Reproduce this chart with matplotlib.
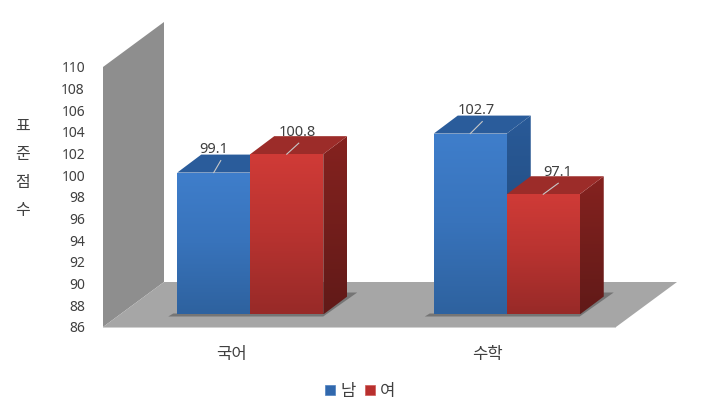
import numpy as np
import matplotlib
matplotlib.use("Agg")
import matplotlib.pyplot as plt
from matplotlib.patches import Polygon, Patch
from matplotlib.colors import LinearSegmentedColormap
from matplotlib.transforms import IdentityTransform

plt.rcParams['font.family'] = ['Noto Sans', 'Noto Sans CJK KR', 'DejaVu Sans']

categories = ['국어', '수학']
series_names = ['남', '여']
male = [99.1, 102.7]
female = [100.8, 97.1]
y_ticks = list(range(86, 112, 2))
y_title = ['표', '준', '점', '수']

W, H = 714, 412
TXT = '#404040'
fig = plt.figure(figsize=(W/100, H/100), dpi=100)
L, R, B, T = 103, 616, 327, 67
ax = fig.add_axes([L/W, 1-B/H, (R-L)/W, (B-T)/H])
ax.set_xlim(-0.5, 1.5)
ax.set_ylim(86, 110)
ax.patch.set_visible(False)
for s in ax.spines.values():
    s.set_visible(False)
ax.set_xticks([0, 1], categories)
ax.set_yticks(y_ticks)
ax.tick_params(axis='y', length=0, pad=13, labelsize=10, labelcolor=TXT)
ax.tick_params(axis='x', length=0, pad=14.5, labelsize=12, labelcolor=TXT)

to_px = ax.transData
from_px = ax.transData.inverted()
def d2p(x, v):
    return to_px.transform((x, v))
def poly(pts, **kw):
    p = Polygon(pts, closed=True, clip_on=False, **kw)
    p.set_transform(IdentityTransform())
    ax.add_patch(p)
    return p
def grad(pts, stops, z):
    pts = np.array(pts)
    cm = LinearSegmentedColormap.from_list('g', stops[::-1])
    x0, x1, y0, y1 = pts[:,0].min(), pts[:,0].max(), pts[:,1].min(), pts[:,1].max()
    (dx0, dy0), (dx1, dy1) = from_px.transform([(x0, y0), (x1, y1)])
    im = ax.imshow(np.linspace(1, 0, 64)[:, None], cmap=cm, vmin=0, vmax=1, aspect='auto',
                   extent=(dx0, dx1, dy0, dy1), zorder=z, interpolation='bilinear')
    im.set_clip_path(Polygon(pts, closed=True, transform=IdentityTransform()))

# chart depth and bar geometry, in pixels
WALL_DX, WALL_DY = 61, 45
BAR_DX, BAR_DY = 24, 18
OFF_X, OFF_Y = 19, 12.5
BAR_W = 73

fig.canvas.draw()
p0 = d2p(-0.5, 86); p1 = d2p(-0.5, 110); p2 = d2p(1.5, 86)
wall_v = np.array([WALL_DX, WALL_DY])
poly([p0, p1, p1+wall_v, p0+wall_v], facecolor='#8e8e8e', edgecolor='none', zorder=1)
poly([p0, p2, p2+wall_v, p0+wall_v], facecolor='#a6a6a6', edgecolor='none', zorder=1.1)
poly([p0, p2, p2+[0, -1.5], p0+[0, -1.5]], facecolor='#d0d0d0', edgecolor='none', zorder=1.1)

colors = {
    0: dict(f=['#3f7ecb', '#3873bb', '#2e629f'], s=['#295a98', '#1f4674'], tc='#2a5c9b'),
    1: dict(f=['#d03b37', '#b83330', '#982a28'], s=['#85221f', '#611a18'], tc='#9c2c29'),
}
# label centre offset from bar front-top centre, and leader tip offset, in pixels
label_off = [(0, 23), (11, 22), (6, 23), (14, 22)]
tip_off = [(7, 12), (12, 11), (12, 12), (15, 11)]

values = [male[0], female[0], male[1], female[1]]
cats = [0, 0, 1, 1]
sers = [0, 1, 0, 1]
draw = []
for i, (c, s, v) in enumerate(zip(cats, sers, values)):
    cx, _ = d2p(c, 86)
    left = cx + OFF_X - BAR_W + s*BAR_W
    base = d2p(c, 86)[1] + OFF_Y
    top = base + (d2p(c, v)[1] - d2p(c, 86)[1])
    draw.append((i, s, left, base, top))

for c in (0, 1):
    cx, by = d2p(c, 86)
    lft = cx + OFF_X - BAR_W
    rgt = cx + OFF_X + BAR_W
    base = by + OFF_Y
    poly([(lft-9, base-2), (rgt, base-2), (rgt+BAR_DX+10, base+BAR_DY+4), (rgt+BAR_DX-2, base+BAR_DY+4),
          (rgt, base+1), (lft-4, base+1)], facecolor='#555555', edgecolor='none', alpha=0.6, zorder=1.5)

z = 2
for i, s, left, base, top in draw:
    col = colors[s]
    right = left + BAR_W
    d = np.array([BAR_DX, BAR_DY])
    grad([(right, base), (right, top), (right+d[0], top+d[1]), (right+d[0], base+d[1])], col['s'], z); z += 0.1
    poly([(left, top), (right, top), (right+d[0], top+d[1]), (left+d[0], top+d[1])],
         facecolor=col['tc'], edgecolor='none', zorder=z); z += 0.1
    grad([(left, base), (right, base), (right, top), (left, top)], col['f'], z); z += 0.1

ax.set_xlim(-0.5, 1.5)
ax.set_ylim(86, 110)

for (i, s, left, base, top), lo, to, v in zip(draw, label_off, tip_off, values):
    cx = left + BAR_W/2
    ax.plot([cx, cx+to[0]], [top, top+to[1]], transform=IdentityTransform(),
            color='#c8c8c8', lw=0.8, zorder=9, clip_on=False)
    fig.text((cx+lo[0])/W, (top+lo[1])/H, f'{v:.1f}', ha='center', va='center', fontsize=10.5, color=TXT, zorder=10)

for ch, py in zip(y_title, [127, 155, 183, 211]):
    fig.text(23/W, 1-py/H, ch, ha='center', va='center', fontsize=11.5, color=TXT)

handles = [Patch(facecolor='#3168ad', edgecolor='#4f82c0', lw=0.5, label=series_names[0]),
           Patch(facecolor='#b8302e', edgecolor='#cf5a56', lw=0.5, label=series_names[1])]
fig.legend(handles=handles, loc='center', bbox_to_anchor=(360/W, 1-392/H), ncol=2, frameon=False,
           fontsize=12, labelcolor=TXT, handlelength=0.6, handleheight=0.6, handletextpad=0.3,
           columnspacing=0.55, borderpad=0)

fig.savefig('out.png', dpi=100)
